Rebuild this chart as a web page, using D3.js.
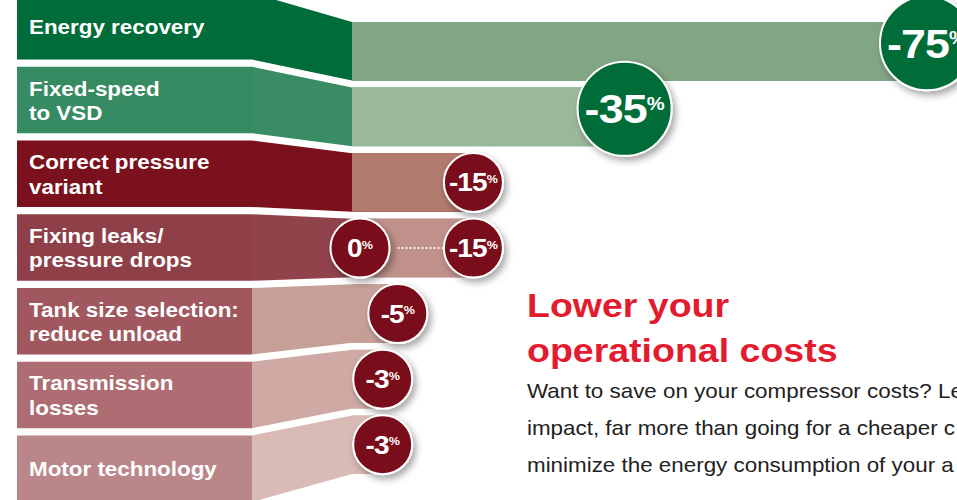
<!DOCTYPE html>
<html>
<head>
<meta charset="utf-8">
<script src="https://cdn.jsdelivr.net/npm/d3@7"></script>
<style>
  body { margin: 0; background: #fff; overflow: hidden; }
  svg { display: block; }
</style>
</head>
<body>
<svg id="chart"></svg>
<script>
// chart values
const categories = [
  "Energy recovery",
  "Fixed-speed\nto VSD",
  "Correct pressure\nvariant",
  "Fixing leaks/\npressure drops",
  "Tank size selection:\nreduce unload",
  "Transmission\nlosses",
  "Motor technology"
];
const savingsFrom = [75, 35, 15, 0, 5, 3, 3];   // % saved (low end of range)
const savingsTo   = [75, 35, 15, 15, 5, 3, 3];  // % saved (high end of range)
const groups = ["green", "green", "red", "red", "red", "red", "red"];

const titleLines = ["Lower your", "operational costs"];
const bodyLines = [
  "Want to save on your compressor costs? Le",
  "impact, far more than going for a cheaper c",
  "minimize the energy consumption of your a"
];

// colours, one per row
const panelColors     = ["#006c39", "#368b62", "#7a111c", "#8e3f48", "#a0575e", "#ad6d72", "#bb868a"];
const connectorColors = ["#006c39", "#398c64", "#7a111c", "#91434c", "#c69f98", "#cfaaa5", "#d9bab5"];
const barColors       = ["#82a583", "#9cb89b", "#b07a6d", "#c0918a", "#c69f98", "#cfaaa5", "#d9bab5"];
const circleColors = { green: "#006c39", red: "#7a111c" };

class SavingsChart {

  constructor(_config, _data) {
    this.config = {
      parentElement: _config.parentElement,
      containerWidth: _config.containerWidth || 957,
      containerHeight: _config.containerHeight || 500,
      panelLeft: 17,
      panelRight: 252,
      barStart: 352,
      textScale: 1.12   // reference type is a bit stretched sideways
    }
    this.data = _data;
    this.initVis();
  }

  initVis() {
    let vis = this;

    vis.svg = d3.select(vis.config.parentElement)
        .attr('width', vis.config.containerWidth)
        .attr('height', vis.config.containerHeight);

    // label panels on the left and bars on the right use two band scales
    vis.panelY = d3.scaleBand()
        .domain(categories)
        .range([-7, 502])
        .paddingInner(0.098);

    vis.barY = d3.scaleBand()
        .domain(categories)
        .range([22, 474])
        .paddingInner(0.107);

    vis.xScale = d3.scaleLinear()
        .domain([0, 75])
        .range([360, 927]);

    vis.radius = g => g === "green" ? 47 : 29.5;
    vis.fontSize = g => g === "green" ? 40 : 25;

    const defs = vis.svg.append('defs');
    const f = defs.append('filter').attr('id', 'shadow')
        .attr('x', '-30%').attr('y', '-30%').attr('width', '170%').attr('height', '170%');
    f.append('feDropShadow')
        .attr('dx', 3).attr('dy', 4).attr('stdDeviation', 3.5)
        .attr('flood-color', '#000').attr('flood-opacity', 0.35);

    vis.chart = vis.svg.append('g');
    vis.updateVis();
  }

  updateVis() {
    let vis = this;
    vis.rows = vis.data.map(d => ({
      ...d,
      pTop: vis.panelY(d.name),
      pBot: vis.panelY(d.name) + vis.panelY.bandwidth(),
      bTop: vis.barY(d.name),
      bBot: vis.barY(d.name) + vis.barY.bandwidth(),
      xEnd: vis.xScale(d.to),
      xStart: vis.xScale(d.from)
    }));
    vis.renderVis();
  }

  renderVis() {
    let vis = this;
    const c = vis.config;
    const s = c.textScale;

    // connector + bar in one shape
    vis.chart.selectAll('.link')
      .data(vis.rows)
      .join('path')
        .attr('class', 'link')
        .attr('fill', d => connectorColors[d.i])
        .attr('d', d => `M${c.panelRight},${d.pTop} L${c.barStart},${d.bTop} L${d.xEnd},${d.bTop}
                         L${d.xEnd},${d.bBot} L${c.barStart},${d.bBot} L${c.panelRight},${d.pBot} Z`);

    vis.chart.selectAll('.bar')
      .data(vis.rows)
      .join('rect')
        .attr('class', 'bar')
        .attr('x', c.barStart)
        .attr('y', d => d.bTop)
        .attr('width', d => Math.max(0, d.xEnd - c.barStart))
        .attr('height', vis.barY.bandwidth())
        .attr('fill', d => barColors[d.i]);

    vis.chart.selectAll('.panel')
      .data(vis.rows)
      .join('rect')
        .attr('class', 'panel')
        .attr('x', c.panelLeft)
        .attr('y', d => d.pTop)
        .attr('width', c.panelRight - c.panelLeft)
        .attr('height', vis.panelY.bandwidth())
        .attr('fill', d => panelColors[d.i]);

    // row labels
    const labels = vis.chart.selectAll('.label')
      .data(vis.rows)
      .join('text')
        .attr('class', 'label')
        .attr('transform', d => {
          const mid = (d.pTop + d.pBot) / 2;
          const lines = d.name.split("\n").length;
          const y = lines === 1 ? mid + 7.5 : mid - 4.5;
          return `translate(29,${y}) scale(${s},1)`;
        })
        .attr('fill', '#fff')
        .attr('font-family', 'Liberation Sans, Arial, sans-serif')
        .attr('font-weight', 'bold')
        .attr('font-size', 20);
    labels.selectAll('tspan')
      .data(d => d.name.split("\n"))
      .join('tspan')
        .attr('x', 0)
        .attr('dy', (t, j) => j === 0 ? 0 : 24.5)
        .text(t => t);

    // dotted line for ranges
    const ranged = vis.rows.filter(d => d.from !== d.to);
    vis.chart.selectAll('.range')
      .data(ranged)
      .join('line')
        .attr('class', 'range')
        .attr('x1', d => d.xStart + vis.radius(d.group) + 8)
        .attr('x2', d => d.xEnd - vis.radius(d.group))
        .attr('y1', d => (d.bTop + d.bBot) / 2)
        .attr('y2', d => (d.bTop + d.bBot) / 2)
        .attr('stroke', '#fff')
        .attr('stroke-opacity', 0.85)
        .attr('stroke-width', 2)
        .attr('stroke-dasharray', '2,2');

    // value bubbles, low end first so the high end sits on top
    const bubbles = [];
    vis.rows.forEach(d => {
      if (d.from !== d.to) bubbles.push({ row: d, v: d.from });
      bubbles.push({ row: d, v: d.to });
    });

    const g = vis.chart.selectAll('.bubble')
      .data(bubbles)
      .join('g')
        .attr('class', 'bubble')
        .attr('transform', b => {
          const d = b.row;
          const cy = (d.bTop + d.bBot) / 2 - (d.group === "green" ? 8 : 0);
          return `translate(${vis.xScale(b.v)},${cy})`;
        });

    g.append('circle')
        .attr('r', b => vis.radius(b.row.group))
        .attr('fill', b => circleColors[b.row.group])
        .attr('stroke', '#fff')
        .attr('stroke-width', 2)
        .attr('filter', 'url(#shadow)');

    const vt = g.append('text')
        .attr('text-anchor', 'middle')
        .attr('transform', b => `translate(0,${vis.fontSize(b.row.group) * 0.36}) scale(${s},1)`)
        .attr('fill', '#fff')
        .attr('font-family', 'Liberation Sans, Arial, sans-serif')
        .attr('font-weight', 'bold')
        .attr('font-size', b => vis.fontSize(b.row.group));
    vt.append('tspan')
        .attr('letter-spacing', -0.8)
        .text(b => b.v === 0 ? "0" : "-" + b.v);
    vt.append('tspan')
        .attr('font-size', b => vis.fontSize(b.row.group) * 0.45)
        .attr('dy', b => -vis.fontSize(b.row.group) * 0.34)
        .text("%");

    // side text
    vis.svg.selectAll('.title')
      .data(titleLines)
      .join('text')
        .attr('class', 'title')
        .attr('transform', (t, j) => `translate(527,${317 + j * 45}) scale(${s},1)`)
        .attr('fill', '#e31b2e')
        .attr('font-family', 'Liberation Sans, Arial, sans-serif')
        .attr('font-weight', 'bold')
        .attr('font-size', 33.5)
        .text(t => t);

    vis.svg.selectAll('.body')
      .data(bodyLines)
      .join('text')
        .attr('class', 'body')
        .attr('transform', (t, j) => `translate(527,${398 + j * 37}) scale(${s},1)`)
        .attr('fill', '#222')
        .attr('font-family', 'Liberation Sans, Arial, sans-serif')
        .attr('font-size', 20)
        .text(t => t);
  }
}

const rows = categories.map((name, i) => ({
  i: i,
  name: name,
  from: savingsFrom[i],
  to: savingsTo[i],
  group: groups[i]
}));

new SavingsChart({ parentElement: '#chart' }, rows);
</script>
</body>
</html>
